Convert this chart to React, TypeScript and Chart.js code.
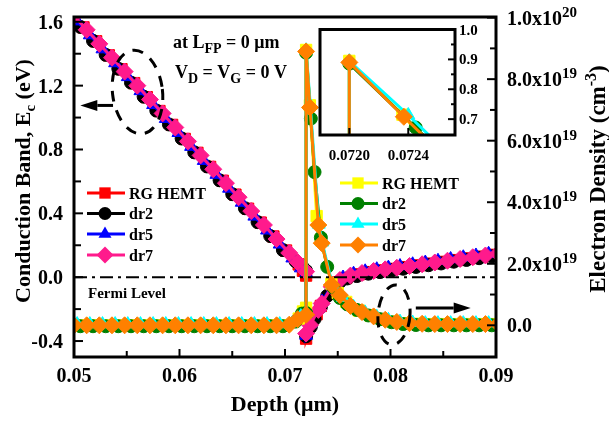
import React, { useEffect, useRef } from 'react';
import { Chart, registerables } from 'chart.js';

Chart.register(...registerables);

// ---------------- data ----------------
// Each structure has its own simulation mesh (depth, µm); 0.0720 is the
// hetero-interface and appears twice (low side / high side).
const depthRg = [
  0.0509, 0.0521, 0.0533, 0.0545, 0.0557, 0.0569, 0.0581, 0.0593, 0.0605, 0.0617,
  0.0629, 0.0641, 0.0653, 0.0665, 0.0677, 0.0689, 0.0701, 0.0713, 0.0717, 0.0720,
  0.0720, 0.07236, 0.0730, 0.0734, 0.0744, 0.0750, 0.0758, 0.0770, 0.0781, 0.0792,
  0.0803, 0.0815, 0.0827, 0.0839, 0.0851, 0.0863, 0.0875, 0.0887, 0.0899,
];
const depthDr2 = [
  0.0506, 0.0518, 0.0530, 0.0542, 0.0554, 0.0566, 0.0578, 0.0590, 0.0602, 0.0614,
  0.0626, 0.0638, 0.0650, 0.0662, 0.0674, 0.0686, 0.0698, 0.0710, 0.0716, 0.0720,
  0.0720, 0.07245, 0.0728, 0.0734, 0.0740, 0.0746, 0.0752, 0.0759, 0.0768, 0.0779,
  0.0790, 0.0801, 0.0812, 0.0824, 0.0836, 0.0848, 0.0860, 0.0872, 0.0884, 0.0896,
  0.0908,
];
const depthDr5 = [
  0.0503, 0.0515, 0.0527, 0.0539, 0.0551, 0.0563, 0.0575, 0.0587, 0.0599, 0.0611,
  0.0623, 0.0635, 0.0647, 0.0659, 0.0671, 0.0683, 0.0695, 0.0707, 0.0715, 0.0720,
  0.0720, 0.07240, 0.07320, 0.07352, 0.07447, 0.0755, 0.0765, 0.0776, 0.0787, 0.0798,
  0.0809, 0.0821, 0.0833, 0.0845, 0.0857, 0.0869, 0.0881, 0.0893, 0.0905,
];
const depthDr7 = [
  0.0500, 0.0512, 0.0524, 0.0536, 0.0548, 0.0560, 0.0572, 0.0584, 0.0596, 0.0608,
  0.0620, 0.0632, 0.0644, 0.0656, 0.0668, 0.0680, 0.0692, 0.0704, 0.0712, 0.0720,
  0.0720, 0.07237, 0.07316, 0.07348, 0.07443, 0.0752, 0.0762, 0.0773, 0.0784, 0.0795,
  0.0806, 0.0818, 0.0830, 0.0842, 0.0854, 0.0866, 0.0878, 0.0890, 0.0902,
];

// conduction band Ec (eV)
const cbRgHemt = [
  1.565, 1.478, 1.390, 1.303, 1.216, 1.128, 1.041, 0.954, 0.866, 0.779,
  0.691, 0.604, 0.517, 0.429, 0.342, 0.255, 0.167, 0.080, 0.040, 0.010,
  -0.385, -0.305, -0.232, -0.180, -0.068, -0.033, -0.005, 0.018, 0.032, 0.043,
  0.052, 0.063, 0.074, 0.085, 0.096, 0.107, 0.118, 0.129, 0.140,
];
const cbDr2 = [
  1.568, 1.481, 1.393, 1.306, 1.219, 1.131, 1.044, 0.957, 0.869, 0.782,
  0.694, 0.607, 0.520, 0.432, 0.345, 0.258, 0.170, 0.100, 0.070, 0.040,
  -0.370, -0.311, -0.262, -0.187, -0.117, -0.062, -0.030, -0.008, 0.007, 0.022,
  0.032, 0.043, 0.053, 0.064, 0.075, 0.086, 0.097, 0.108, 0.119, 0.130,
  0.141,
];
const cbDr5 = [
  1.604, 1.517, 1.429, 1.342, 1.255, 1.167, 1.080, 0.993, 0.905, 0.818,
  0.730, 0.643, 0.556, 0.468, 0.381, 0.294, 0.206, 0.119, 0.057, 0.025,
  -0.365, -0.290, -0.192, -0.152, -0.048, -0.002, 0.022, 0.037, 0.050, 0.060,
  0.070, 0.081, 0.092, 0.103, 0.114, 0.125, 0.136, 0.147, 0.158,
];
const cbDr7 = [
  1.637, 1.550, 1.462, 1.375, 1.288, 1.200, 1.113, 1.026, 0.938, 0.851,
  0.763, 0.676, 0.589, 0.501, 0.414, 0.327, 0.239, 0.152, 0.094, 0.035,
  -0.353, -0.300, -0.205, -0.165, -0.060, -0.018, 0.010, 0.026, 0.039, 0.049,
  0.059, 0.070, 0.081, 0.092, 0.103, 0.114, 0.125, 0.136, 0.147,
];

// electron density (units of 1e19 cm^-3)
const neRgHemt = [
  0.00, 0.00, 0.00, 0.00, 0.00, 0.00, 0.00, 0.00, 0.00, 0.00,
  0.00, 0.00, 0.00, 0.00, 0.00, 0.00, 0.00, 0.22, 0.45, 0.57,
  8.95, 7.15, 3.55, 2.78, 1.36, 1.05, 0.76, 0.48, 0.32, 0.20,
  0.12, 0.07, 0.05, 0.04, 0.04, 0.04, 0.04, 0.04, 0.04,
];
const neDr2 = [
  -0.03, -0.03, -0.03, -0.03, -0.03, -0.03, -0.03, -0.03, -0.03, -0.03,
  -0.03, -0.03, -0.03, -0.03, -0.03, -0.03, -0.03, 0.12, 0.38, 0.40,
  8.86, 6.72, 4.98, 2.85, 1.90, 1.22, 0.89, 0.68, 0.50, 0.32,
  0.20, 0.10, 0.04, 0.01, 0.00, 0.00, 0.00, 0.00, 0.00, 0.00,
  0.00,
];
const neDr5 = [
  0.04, 0.04, 0.04, 0.04, 0.04, 0.04, 0.04, 0.04, 0.04, 0.04,
  0.04, 0.04, 0.04, 0.04, 0.04, 0.04, 0.04, 0.08, 0.30, 0.40,
  8.94, 7.14, 3.28, 2.70, 1.33, 0.90, 0.60, 0.42, 0.28, 0.18,
  0.12, 0.09, 0.07, 0.07, 0.07, 0.07, 0.07, 0.07, 0.07,
];
const neDr7 = [
  0.00, 0.00, 0.00, 0.00, 0.00, 0.00, 0.00, 0.00, 0.00, 0.00,
  0.00, 0.00, 0.00, 0.00, 0.00, 0.00, 0.00, 0.02, 0.20, 0.34,
  8.90, 7.08, 3.26, 2.67, 1.31, 0.98, 0.63, 0.43, 0.29, 0.18,
  0.11, 0.07, 0.05, 0.04, 0.04, 0.04, 0.04, 0.04, 0.04,
];

const seriesNames = ['RG HEMT', 'dr2', 'dr5', 'dr7'];
const depths = [depthRg, depthDr2, depthDr5, depthDr7];
const cbSeries = [cbRgHemt, cbDr2, cbDr5, cbDr7];
const neSeries = [neRgHemt, neDr2, neDr5, neDr7];
const cbColors = ['#ff0000', '#000000', '#0000ff', '#ff1a8c'];
const neColors = ['#ffff00', '#008000', '#00ffff', '#ff8000'];
const markerStyles = ['rect', 'circle', 'triangle', 'rectRot'];
const markerRadii = [8, 6.5, 7.5, 8.5];

// ticks
const xTickLabels = ['0.05', '0.06', '0.07', '0.08', '0.09'];
const xMinorTicks = [0.055, 0.065, 0.075, 0.085];
const yLeftTickLabels = ['-0.4', '0.0', '0.4', '0.8', '1.2', '1.6'];
const yLeftMinorTicks = [-0.2, 0.2, 0.6, 1.0, 1.4];
const yRightTicks = [0, 2, 4, 6, 8, 10];
const yRightMantissa = ['0.0', '2.0x10', '4.0x10', '6.0x10', '8.0x10', '1.0x10'];
const yRightExponent = ['', '19', '19', '19', '19', '20'];
const yRightMinorTicks = [1, 3, 5, 7, 9];
const insetXTickLabels = ['0.0720', '0.0724'];
const insetYTickLabels = ['0.7', '0.8', '0.9', '1.0'];
const insetYMinorTicks = [7.5, 8.5, 9.5];

// ---------------- helpers ----------------
const FAM = '"Liberation Serif", "Times New Roman", serif';
const font = (s: number) => `bold ${s}px ${FAM}`;
type Seg = { t: string; size: number; dy?: number };

function segsWidth(ctx: CanvasRenderingContext2D, segs: Seg[]) {
  let w = 0;
  for (const s of segs) {
    ctx.font = font(s.size);
    w += ctx.measureText(s.t).width;
  }
  return w;
}
function drawSegs(ctx: CanvasRenderingContext2D, segs: Seg[], x: number, y: number, align: 'left' | 'center' | 'right') {
  const w = segsWidth(ctx, segs);
  let cx = align === 'left' ? x : align === 'center' ? x - w / 2 : x - w;
  ctx.textAlign = 'left';
  ctx.textBaseline = 'alphabetic';
  for (const s of segs) {
    ctx.font = font(s.size);
    ctx.fillText(s.t, cx, y + (s.dy || 0));
    cx += ctx.measureText(s.t).width;
  }
}
function drawMarker(ctx: CanvasRenderingContext2D, style: string, x: number, y: number, r: number, color: string) {
  ctx.beginPath();
  ctx.fillStyle = color;
  if (style === 'rect') {
    const s = r * Math.SQRT1_2;
    ctx.rect(x - s, y - s, 2 * s, 2 * s);
  } else if (style === 'circle') {
    ctx.arc(x, y, r, 0, Math.PI * 2);
  } else if (style === 'triangle') {
    ctx.moveTo(x, y - r);
    ctx.lineTo(x + r * 0.866, y + r * 0.5);
    ctx.lineTo(x - r * 0.866, y + r * 0.5);
    ctx.closePath();
  } else {
    ctx.moveTo(x, y - r);
    ctx.lineTo(x + r, y);
    ctx.lineTo(x, y + r);
    ctx.lineTo(x - r, y);
    ctx.closePath();
  }
  ctx.fill();
}
function line(ctx: CanvasRenderingContext2D, x1: number, y1: number, x2: number, y2: number) {
  ctx.beginPath();
  ctx.moveTo(x1, y1);
  ctx.lineTo(x2, y2);
  ctx.stroke();
}
function arrow(ctx: CanvasRenderingContext2D, x1: number, x2: number, y: number) {
  const dir = x2 > x1 ? 1 : -1;
  const hl = 17, hh = 5.5;
  ctx.lineWidth = 3;
  line(ctx, x1, y, x2 - dir * hl, y);
  ctx.beginPath();
  ctx.moveTo(x2, y);
  ctx.lineTo(x2 - dir * hl, y - hh);
  ctx.lineTo(x2 - dir * hl, y + hh);
  ctx.closePath();
  ctx.fill();
}

function dataset(label: string, xs: number[], ys: number[], axis: string, color: string, k: number, order: number) {
  return {
    label,
    data: xs.map((x, i) => ({ x, y: ys[i] })),
    yAxisID: axis,
    borderColor: color,
    backgroundColor: color,
    pointBackgroundColor: color,
    pointBorderColor: color,
    pointBorderWidth: 1,
    pointStyle: markerStyles[k],
    pointRadius: markerRadii[k],
    borderWidth: 3,
    tension: 0,
    spanGaps: true,
    clip: 0,
    order,
  };
}

function makeDatasets(withCB: boolean) {
  const ds: any[] = [];
  if (withCB) {
    cbSeries.forEach((arr, k) => ds.push(dataset(seriesNames[k], depths[k], arr, 'y', cbColors[k], k, 7 - k)));
  }
  neSeries.forEach((arr, k) => ds.push(dataset(seriesNames[k], depths[k], arr, withCB ? 'y2' : 'yi', neColors[k], k, 3 - k)));
  return ds;
}

const hiddenScale = { grid: { display: false }, border: { display: false }, ticks: { display: false } };

const mainPlugin = {
  id: 'mainDecor',
  afterDatasetsDraw(chart: any) {
    const { ctx, chartArea: a, scales } = chart;
    const y0 = scales.y.getPixelForValue(0);
    ctx.save();
    ctx.strokeStyle = '#000';
    ctx.lineWidth = 2;
    ctx.setLineDash([13, 5, 3, 5]);
    line(ctx, a.left, y0, a.right, y0);
    ctx.restore();
  },
  afterDraw(chart: any) {
    const { ctx, chartArea: a, scales } = chart;
    const sx = scales.x, sy = scales.y, sy2 = scales.y2;
    ctx.save();
    ctx.strokeStyle = '#000';
    ctx.fillStyle = '#000';
    ctx.setLineDash([]);
    // ticks (inward)
    ctx.lineWidth = 2;
    xTickLabels.forEach((l) => { const p = sx.getPixelForValue(Number(l)); line(ctx, p, a.bottom, p, a.bottom - 8); });
    xMinorTicks.forEach((v) => { const p = sx.getPixelForValue(v); line(ctx, p, a.bottom, p, a.bottom - 6); });
    yLeftTickLabels.forEach((l) => { const p = sy.getPixelForValue(Number(l)); line(ctx, a.left, p, a.left + 9, p); });
    yLeftMinorTicks.forEach((v) => { const p = sy.getPixelForValue(v); line(ctx, a.left, p, a.left + 7, p); });
    yRightTicks.forEach((v) => { const p = sy2.getPixelForValue(v); line(ctx, a.right, p, a.right - 9, p); });
    yRightMinorTicks.forEach((v) => { const p = sy2.getPixelForValue(v); line(ctx, a.right, p, a.right - 6, p); });
    // frame
    ctx.lineWidth = 3;
    ctx.strokeRect(a.left, a.top, a.right - a.left, a.bottom - a.top);
    // tick labels
    xTickLabels.forEach((l) => drawSegs(ctx, [{ t: l, size: 20 }], sx.getPixelForValue(Number(l)), a.bottom + 25, 'center'));
    yLeftTickLabels.forEach((l) => drawSegs(ctx, [{ t: l, size: 20 }], a.left - 11, sy.getPixelForValue(Number(l)) + 7, 'right'));
    yRightTicks.forEach((v, i) => {
      const segs: Seg[] = [{ t: yRightMantissa[i], size: 20 }];
      if (yRightExponent[i]) segs.push({ t: yRightExponent[i], size: 15, dy: -8 });
      drawSegs(ctx, segs, a.right + 11, sy2.getPixelForValue(v) + 7, 'left');
    });
    // axis titles
    drawSegs(ctx, [{ t: 'Depth (\u03bcm)', size: 22 }], (a.left + a.right) / 2, 411, 'center');
    ctx.save();
    ctx.translate(22, 181);
    ctx.rotate(-Math.PI / 2);
    drawSegs(ctx, [{ t: 'Conduction Band, E', size: 22 }, { t: 'c', size: 15, dy: 5 }, { t: ' (eV)', size: 22 }], 0, 8, 'center');
    ctx.restore();
    ctx.save();
    ctx.translate(597, 179);
    ctx.rotate(-Math.PI / 2);
    drawSegs(ctx, [{ t: 'Electron Density (cm', size: 23 }, { t: '-3', size: 16, dy: -9 }, { t: ')', size: 23 }], 0, 8, 'center');
    ctx.restore();
    // annotations
    drawSegs(ctx, [{ t: 'at L', size: 18 }, { t: 'FP', size: 14, dy: 5 }, { t: ' = 0 \u03bcm', size: 18 }], 173, 48, 'left');
    drawSegs(ctx, [{ t: 'V', size: 18 }, { t: 'D', size: 14, dy: 5 }, { t: ' = V', size: 18 }, { t: 'G', size: 14, dy: 5 }, { t: ' = 0 V', size: 18 }], 175, 78, 'left');
    drawSegs(ctx, [{ t: 'Fermi Level', size: 15 }], 88, 298, 'left');
    // legends
    const leg1 = [193, 213.5, 234, 255];
    const leg2 = [183, 203.5, 224, 245];
    seriesNames.forEach((n, k) => {
      ctx.strokeStyle = cbColors[k];
      ctx.lineWidth = 3;
      line(ctx, 87, leg1[k], 125, leg1[k]);
      drawMarker(ctx, markerStyles[k], 105, leg1[k], markerRadii[k], cbColors[k]);
      ctx.fillStyle = '#000';
      drawSegs(ctx, [{ t: n, size: 16 }], 129, leg1[k] + 5.5, 'left');
      ctx.strokeStyle = neColors[k];
      line(ctx, 340, leg2[k], 378, leg2[k]);
      drawMarker(ctx, markerStyles[k], 358, leg2[k], markerRadii[k], neColors[k]);
      ctx.fillStyle = '#000';
      drawSegs(ctx, [{ t: n, size: 16 }], 382, leg2[k] + 5.5, 'left');
    });
    // dashed ellipses + arrows
    ctx.strokeStyle = '#000';
    ctx.fillStyle = '#000';
    ctx.lineWidth = 3;
    ctx.setLineDash([11, 9]);
    ctx.beginPath();
    ctx.ellipse(sx.getPixelForValue(0.05602), sy.getPixelForValue(1.16), 25, 42, -0.12, 0, Math.PI * 2);
    ctx.stroke();
    ctx.beginPath();
    ctx.ellipse(sx.getPixelForValue(0.08033), sy2.getPixelForValue(0.34), 16, 30, 0.08, 0, Math.PI * 2);
    ctx.stroke();
    ctx.setLineDash([]);
    arrow(ctx, sx.getPixelForValue(0.0537), sx.getPixelForValue(0.0506), sy.getPixelForValue(1.076));
    arrow(ctx, sx.getPixelForValue(0.0824), sx.getPixelForValue(0.0876), sy2.getPixelForValue(0.565));
    ctx.restore();
  },
};

const insetPlugin = {
  id: 'insetDecor',
  beforeDatasetsDraw(chart: any) {
    const { ctx, chartArea: a } = chart;
    ctx.save();
    ctx.fillStyle = '#fff';
    ctx.fillRect(a.left, a.top, a.right - a.left, a.bottom - a.top);
    ctx.restore();
  },
  afterDraw(chart: any) {
    const { ctx, chartArea: a, scales } = chart;
    const sx = scales.x, sy = scales.yi;
    ctx.save();
    ctx.strokeStyle = '#000';
    ctx.fillStyle = '#000';
    ctx.lineWidth = 2;
    insetXTickLabels.forEach((l) => { const p = sx.getPixelForValue(Number(l)); line(ctx, p, a.bottom, p, a.bottom - 7); });
    insetYTickLabels.forEach((l) => { const p = sy.getPixelForValue(Number(l) * 10); line(ctx, a.right, p, a.right - 7, p); });
    insetYMinorTicks.forEach((v) => { const p = sy.getPixelForValue(v); line(ctx, a.right, p, a.right - 4, p); });
    ctx.lineWidth = 3;
    ctx.strokeRect(a.left, a.top, a.right - a.left, a.bottom - a.top);
    insetXTickLabels.forEach((l) => drawSegs(ctx, [{ t: l, size: 15 }], sx.getPixelForValue(Number(l)), a.bottom + 25, 'center'));
    insetYTickLabels.forEach((l) => drawSegs(ctx, [{ t: l, size: 15 }], a.right + 4, sy.getPixelForValue(Number(l) * 10) + 5, 'left'));
    ctx.restore();
  },
};

export default function App() {
  const mainRef = useRef<HTMLCanvasElement>(null);
  const insetRef = useRef<HTMLCanvasElement>(null);

  useEffect(() => {
    document.body.style.margin = '0';
    const main = new Chart(mainRef.current as HTMLCanvasElement, {
      type: 'line',
      data: { datasets: makeDatasets(true) },
      options: {
        responsive: false,
        animation: false,
        devicePixelRatio: 1,
        events: [],
        layout: { padding: { top: 17, left: 0, right: 0, bottom: 0 } },
        plugins: { legend: { display: false }, tooltip: { enabled: false } },
        scales: {
          x: { type: 'linear', min: 0.05, max: 0.09, ...hiddenScale, afterFit: (s: any) => { s.height = 64; } },
          y: { type: 'linear', position: 'left', min: -0.5, max: 1.63, ...hiddenScale, afterFit: (s: any) => { s.width = 74; } },
          y2: { type: 'linear', position: 'right', min: -1.03, max: 10.02, ...hiddenScale, afterFit: (s: any) => { s.width = 113; } },
        },
      } as any,
      plugins: [mainPlugin],
    });
    const inset = new Chart(insetRef.current as HTMLCanvasElement, {
      type: 'line',
      data: { datasets: makeDatasets(false) },
      options: {
        responsive: false,
        animation: false,
        devicePixelRatio: 1,
        events: [],
        layout: { padding: { top: 9, left: 20, right: 0, bottom: 0 } },
        plugins: { legend: { display: false }, tooltip: { enabled: false } },
        scales: {
          x: { type: 'linear', min: 0.071801, max: 0.072717, ...hiddenScale, afterFit: (s: any) => { s.height = 35; } },
          yi: { type: 'linear', position: 'right', min: 6.47, max: 10.0, ...hiddenScale, afterFit: (s: any) => { s.width = 35; } },
        },
      } as any,
      plugins: [insetPlugin],
    });
    return () => {
      main.destroy();
      inset.destroy();
    };
  }, []);

  return (
    <div style={{ position: 'relative', width: 609, height: 421 }}>
      <canvas ref={mainRef} width={609} height={421} style={{ display: 'block' }} />
      <canvas ref={insetRef} width={190} height={150} style={{ position: 'absolute', left: 300, top: 20 }} />
    </div>
  );
}
